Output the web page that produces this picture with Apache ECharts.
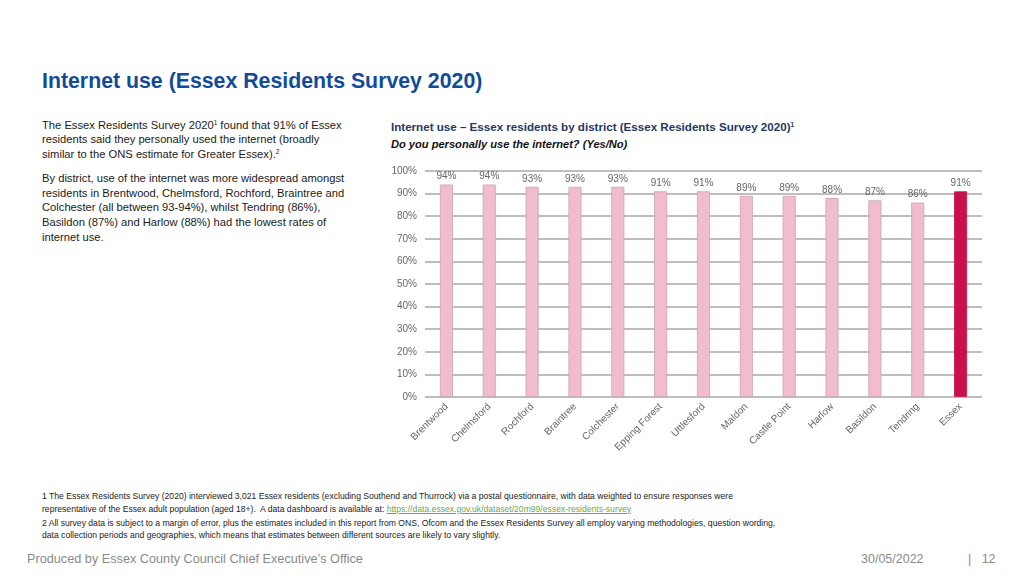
<!DOCTYPE html>
<html>
<head>
<meta charset="utf-8">
<script src="https://cdn.jsdelivr.net/npm/echarts@6/dist/echarts.min.js"></script>
<style>
    body { margin: 0; width: 1024px; height: 576px; background: #fff; font-family: "Liberation Sans", Arial, sans-serif; position: relative; overflow: hidden; }
    .abs { position: absolute; }
    #pageTitle { left: 42px; top: 69px; font-size: 21.3px; font-weight: bold; color: #124b9a; }
    #intro { left: 42px; top: 117.5px; width: 312px; font-size: 11.2px; line-height: 14.8px; color: #1a1a1a; }
    #intro p { margin: 0 0 9px 0; }
    sup { font-size: 6.5px; vertical-align: 4px; line-height: 0; }
    #chartTitle { left: 391px; top: 120px; font-size: 11.6px; font-weight: bold; color: #1f3864; }
    #chartSub { left: 391px; top: 138px; font-size: 11.1px; font-weight: bold; font-style: italic; color: #111; }
    #main { left: 380px; top: 160px; width: 620px; height: 310px; }
    #notes { left: 42px; top: 490px; width: 780px; font-size: 8.6px; line-height: 12.5px; color: #222; white-space: nowrap; }
    #notes p { margin: 0 0 1.5px 0; }
    #notes a { color: #6aa84f; text-decoration: underline; }
    #footer { left: 27px; top: 552px; font-size: 12.7px; color: #8a8a8a; }
    #date { left: 861px; top: 552px; font-size: 12.5px; color: #8a8a8a; }
    #pageNo { left: 968px; top: 552px; font-size: 12.5px; color: #8a8a8a; }
</style>
</head>
<body>
<div class="abs" id="pageTitle">Internet use (Essex Residents Survey 2020)</div>

<div class="abs" id="intro">
    <p>The Essex Residents Survey 2020<sup>1</sup> found that 91% of Essex residents said they personally used the internet (broadly similar to the ONS estimate for Greater Essex).<sup>2</sup></p>
    <p>By district, use of the internet was more widespread amongst residents in Brentwood, Chelmsford, Rochford, Braintree and Colchester (all between 93-94%), whilst Tendring (86%), Basildon (87%) and Harlow (88%) had the lowest rates of internet use.</p>
</div>

<div class="abs" id="chartTitle">Internet use – Essex residents by district (Essex Residents Survey 2020)<sup>1</sup></div>
<div class="abs" id="chartSub">Do you personally use the internet? (Yes/No)</div>

<div class="abs" id="main"></div>

<div class="abs" id="notes">
    <p>1 The Essex Residents Survey (2020) interviewed 3,021 Essex residents (excluding Southend and Thurrock) via a postal questionnaire, with data weighted to ensure responses were<br>representative of the Essex adult population (aged 18+).&nbsp; A data dashboard is available at: <a href="#">https://data.essex.gov.uk/dataset/20m99/essex-residents-survey</a></p>
    <p>2 All survey data is subject to a margin of error, plus the estimates included in this report from ONS, Ofcom and the Essex Residents Survey all employ varying methodologies, question wording,<br>data collection periods and geographies, which means that estimates between different sources are likely to vary slightly.</p>
</div>

<div class="abs" id="footer">Produced by Essex County Council Chief Executive’s Office</div>
<div class="abs" id="date">30/05/2022</div>
<div class="abs" id="pageNo">|&nbsp;&nbsp;&nbsp;12</div>

<script type="text/javascript">
    // 区县名称与使用率
    var districts = ['Brentwood', 'Chelmsford', 'Rochford', 'Braintree', 'Colchester', 'Epping Forest',
        'Uttlesford', 'Maldon', 'Castle Point', 'Harlow', 'Basildon', 'Tendring', 'Essex'];
    var usePct = [94, 94, 93, 93, 93, 91, 91, 89, 89, 88, 87, 86, 91];
    var highlight = 'Essex';

    var myChart = echarts.init(document.getElementById('main'));
    var option = {
        animation: false,
        grid: {
            left: 45,
            right: 18,
            top: 11,
            bottom: 73
        },
        xAxis: [
            {
                type: 'category',
                data: districts,
                axisLine: { show: false },
                axisTick: { show: false },
                axisLabel: {
                    rotate: 45,
                    margin: 8,
                    interval: 0,
                    fontSize: 10,
                    color: '#666666',
                    fontFamily: 'Liberation Sans'
                }
            }
        ],
        yAxis: [
            {
                type: 'value',
                min: 0,
                max: 100,
                interval: 10,
                axisLine: { show: false },
                axisTick: { show: false },
                splitLine: {
                    show: true,
                    lineStyle: { color: '#a9a9a9', width: 1.5 }
                },
                axisLabel: {
                    formatter: '{value}%',
                    margin: 8,
                    fontSize: 10,
                    color: '#666666',
                    fontFamily: 'Liberation Sans'
                }
            }
        ],
        series: [
            {
                type: 'bar',
                barWidth: 13,
                data: usePct.map(function (v, i) {
                    return {
                        value: v,
                        itemStyle: {
                            color: districts[i] === highlight ? '#c8104a' : '#f2bccf',
                            borderColor: districts[i] === highlight ? '#c8104a' : '#c9a3b2',
                            borderWidth: 0.8
                        }
                    };
                }),
                label: {
                    show: true,
                    position: 'top',
                    distance: 3,
                    formatter: '{c}%',
                    fontSize: 10,
                    color: '#666666',
                    fontFamily: 'Liberation Sans'
                }
            }
        ]
    };

    myChart.setOption(option);
</script>
</body>
</html>
